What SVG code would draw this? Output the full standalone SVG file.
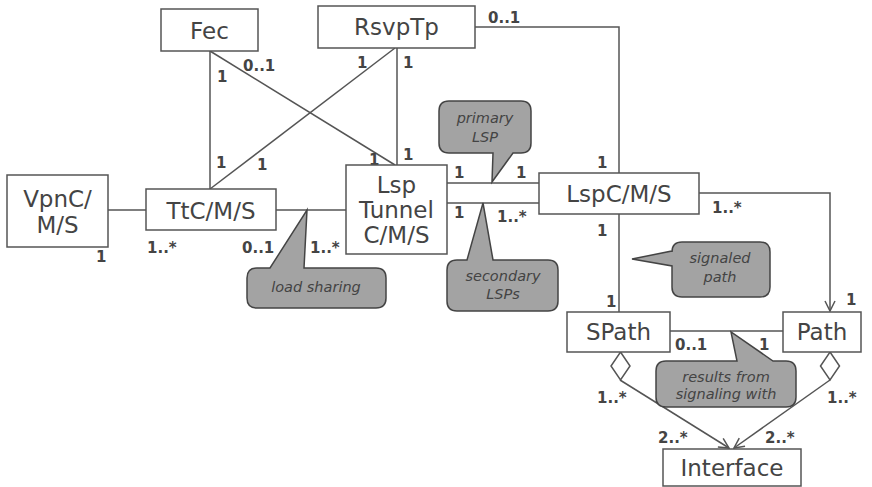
<svg xmlns="http://www.w3.org/2000/svg" width="872" height="487" viewBox="0 0 872 487">
<style>
.box{fill:#fff;stroke:#555;stroke-width:1.5}
.nt{font-family:"DejaVu Sans",Verdana,sans-serif;font-size:23px;fill:#444;text-anchor:middle}
.ln{fill:none;stroke:#555;stroke-width:1.5}
.lb{font-family:"DejaVu Sans",Verdana,sans-serif;font-size:15px;font-weight:bold;fill:#444}
.co{fill:#a3a3a3;stroke:#444;stroke-width:1.5}
.ct{font-family:"DejaVu Sans",Verdana,sans-serif;font-size:14.5px;font-style:italic;fill:#444;text-anchor:middle}
.dm{fill:#fff;stroke:#555;stroke-width:1.5}
</style>
<defs>
<marker id="open" viewBox="0 0 12 12" refX="11" refY="6" markerWidth="12" markerHeight="12" markerUnits="userSpaceOnUse" orient="auto">
<path d="M1,1 L11,6 L1,11" fill="none" stroke="#555" stroke-width="1.5"/>
</marker>
</defs>
<rect width="872" height="487" fill="#fff"/>
<g id="connectors">
<line class="ln" x1="108" y1="210" x2="146" y2="210"/>
<line class="ln" x1="276" y1="210" x2="346" y2="210"/>
<line class="ln" x1="210" y1="51" x2="210" y2="189"/>
<line class="ln" x1="210" y1="189" x2="395" y2="48"/>
<line class="ln" x1="210" y1="51" x2="395" y2="165"/>
<line class="ln" x1="397" y1="48" x2="397" y2="165"/>
<polyline class="ln" points="475,27 619,27 619,173"/>
<line class="ln" x1="447" y1="183" x2="539" y2="183"/>
<line class="ln" x1="447" y1="203" x2="539" y2="203"/>
<line class="ln" x1="619" y1="214" x2="619" y2="312"/>
<polyline class="ln" points="699,193 830,193 830,311" marker-end="url(#open)"/>
<line class="ln" x1="670" y1="331" x2="783" y2="331"/>
<line class="ln" x1="620" y1="380" x2="729" y2="448" marker-end="url(#open)"/>
<line class="ln" x1="830" y1="380" x2="734" y2="448" marker-end="url(#open)"/>
<path class="dm" d="M620.5,352 L630,366 L620.5,380 L611,366 Z"/>
<path class="dm" d="M830,352 L839.5,366 L830,380 L820.5,366 Z"/>
</g>
<g id="labels">
<text class="lb" x="217" y="82">1</text>
<text class="lb" x="243" y="71">0..1</text>
<text class="lb" x="216" y="168">1</text>
<text class="lb" x="257" y="170">1</text>
<text class="lb" x="357" y="68">1</text>
<text class="lb" x="403" y="68">1</text>
<text class="lb" x="369" y="165">1</text>
<text class="lb" x="403" y="160">1</text>
<text class="lb" x="488" y="23">0..1</text>
<text class="lb" x="454" y="178">1</text>
<text class="lb" x="516" y="178">1</text>
<text class="lb" x="454" y="218">1</text>
<text class="lb" x="497" y="222">1..*</text>
<text class="lb" x="597" y="168">1</text>
<text class="lb" x="597" y="236">1</text>
<text class="lb" x="712" y="213">1..*</text>
<text class="lb" x="606" y="307">1</text>
<text class="lb" x="846" y="305">1</text>
<text class="lb" x="96" y="262">1</text>
<text class="lb" x="147" y="253">1..*</text>
<text class="lb" x="242" y="253">0..1</text>
<text class="lb" x="310" y="253">1..*</text>
<text class="lb" x="675" y="350">0..1</text>
<text class="lb" x="759" y="350">1</text>
<text class="lb" x="597" y="403">1..*</text>
<text class="lb" x="827" y="403">1..*</text>
<text class="lb" x="658" y="443">2..*</text>
<text class="lb" x="765" y="443">2..*</text>
</g>
<g id="Fec"><rect class="box" x="161" y="9" width="97" height="42"/><text class="nt" x="209.5" y="39">Fec</text></g>
<g id="RsvpTp"><rect class="box" x="318" y="6" width="157" height="42"/><text class="nt" x="396.5" y="35">RsvpTp</text></g>
<g id="VpnCMS"><rect class="box" x="7" y="175" width="101" height="72"/><text class="nt" x="57.5" y="207">VpnC/</text><text class="nt" x="57.5" y="233">M/S</text></g>
<g id="TtCMS"><rect class="box" x="146" y="189" width="130" height="41"/><text class="nt" x="211" y="219">TtC/M/S</text></g>
<g id="LspTunnel"><rect class="box" x="346" y="165" width="101" height="89"/><text class="nt" x="396.5" y="193">Lsp</text><text class="nt" x="396.5" y="218">Tunnel</text><text class="nt" x="396.5" y="243">C/M/S</text></g>
<g id="LspCMS"><rect class="box" x="539" y="173" width="160" height="41"/><text class="nt" x="619" y="202">LspC/M/S</text></g>
<g id="SPath"><rect class="box" x="567" y="312" width="103" height="40"/><text class="nt" x="618.5" y="340">SPath</text></g>
<g id="Path"><rect class="box" x="783" y="312" width="78" height="40"/><text class="nt" x="822" y="340">Path</text></g>
<g id="Interface"><rect class="box" x="663" y="449" width="138" height="37"/><text class="nt" x="732" y="476">Interface</text></g>
<g id="note-primary"><path class="co" d="M449,101 H521 Q531,101 531,111 V143 Q531,153 521,153 H513 L492,182 L493,153 H449 Q439,153 439,143 V111 Q439,101 449,101 Z"/><text class="ct" x="485" y="123">primary</text><text class="ct" x="485" y="142">LSP</text></g>
<g id="note-load"><path class="co" d="M257,268 H270 L307,210 L304,268 H376 Q386,268 386,278 V298 Q386,308 376,308 H257 Q247,308 247,298 V278 Q247,268 257,268 Z"/><text class="ct" x="316" y="292">load sharing</text></g>
<g id="note-secondary"><path class="co" d="M457,260 H467 L483,203 L493,260 H548 Q558,260 558,270 V301 Q558,311 548,311 H457 Q447,311 447,301 V270 Q447,260 457,260 Z"/><text class="ct" x="503" y="281">secondary</text><text class="ct" x="503" y="299">LSPs</text></g>
<g id="note-signaled"><path class="co" d="M682,242 H760 Q770,242 770,252 V287 Q770,297 760,297 H682 Q672,297 672,287 V266 L632,259 L672,251 V252 Q672,242 682,242 Z"/><text class="ct" x="720" y="263">signaled</text><text class="ct" x="720" y="282">path</text></g>
<g id="note-results"><path class="co" d="M666,361 H737 L731,332 L773,361 H786 Q796,361 796,371 V397 Q796,407 786,407 H666 Q656,407 656,397 V371 Q656,361 666,361 Z"/><text class="ct" x="726" y="382">results from</text><text class="ct" x="726" y="399">signaling with</text></g>
</svg>
